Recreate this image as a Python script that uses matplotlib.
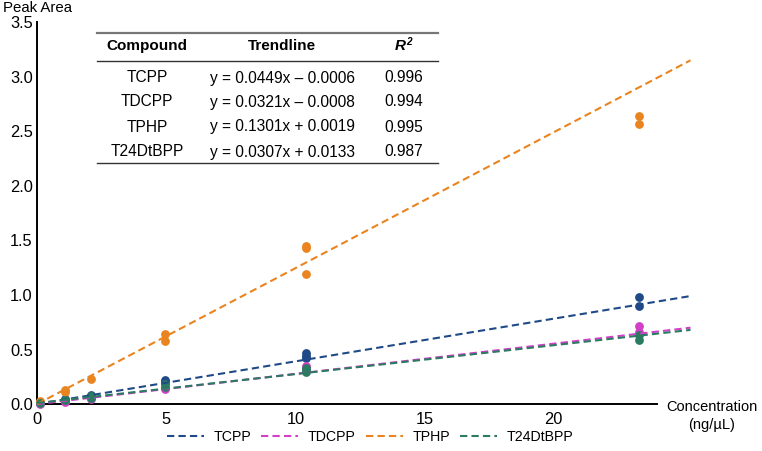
import matplotlib
matplotlib.use('Agg')
from matplotlib import pyplot as plt
from matplotlib.lines import Line2D
import numpy as np

plt.rcParams['font.family'] = ['Liberation Sans', 'DejaVu Sans']

# Data (x in axis units, y = peak area)
compounds = ['TCPP', 'TDCPP', 'TPHP', 'T24DtBPP']
colors = ['#1f4a87', '#d23fc8', '#ea8420', '#2b7a62']

tcpp_x = [0.12, 1.1, 1.1, 2.1, 2.1, 4.95, 4.95, 10.4, 10.4, 10.4, 23.3, 23.3]
tcpp_y = [0.01, 0.04, 0.05, 0.08, 0.07, 0.22, 0.20, 0.47, 0.44, 0.42, 0.98, 0.90]
tdcpp_x = [0.12, 1.1, 1.1, 2.1, 4.95, 4.95, 10.4, 10.4, 23.3, 23.3]
tdcpp_y = [0.00, 0.02, 0.03, 0.05, 0.14, 0.15, 0.35, 0.33, 0.72, 0.66]
tphp_x = [0.12, 0.12, 1.1, 1.1, 2.1, 4.95, 4.95, 10.4, 10.4, 10.4, 23.3, 23.3]
tphp_y = [0.03, 0.02, 0.13, 0.11, 0.23, 0.64, 0.58, 1.45, 1.43, 1.19, 2.64, 2.57]
t24_x = [0.12, 1.1, 2.1, 2.1, 4.95, 4.95, 10.4, 10.4, 10.4, 23.3, 23.3]
t24_y = [0.01, 0.04, 0.07, 0.06, 0.18, 0.16, 0.33, 0.31, 0.29, 0.63, 0.59]

# trendline ends (x = 0 and x = 25.3)
trend_x = [0, 25.3]
trend_y0 = [0.0, 0.0, 0.0, 0.01]
trend_y1 = [0.99, 0.70, 3.15, 0.68]

table_rows = [['TCPP', 'y = 0.0449x \u2013 0.0006', '0.996'],
              ['TDCPP', 'y = 0.0321x \u2013 0.0008', '0.994'],
              ['TPHP', 'y = 0.1301x + 0.0019', '0.995'],
              ['T24DtBPP', 'y = 0.0307x + 0.0133', '0.987']]

xs = [tcpp_x, tdcpp_x, tphp_x, t24_x]
ys = [tcpp_y, tdcpp_y, tphp_y, t24_y]

fig = plt.figure(figsize=(7.62, 4.51), dpi=100)
ax = fig.add_axes([0.0486, 0.104, 0.8135, 0.847])

for i in range(len(compounds)):
    ax.scatter(xs[i], ys[i], s=40, color=colors[i], zorder=3, clip_on=False, linewidths=0)
for i in range(len(compounds)):
    ax.plot(trend_x, [trend_y0[i], trend_y1[i]], color=colors[i], lw=1.5,
            dashes=(3.5, 2), zorder=4, clip_on=False)

ax.set_xlim(0, 24)
ax.set_ylim(0, 3.5)
ax.set_xticks([0, 5, 10, 15, 20])
ax.set_yticks(np.arange(0, 3.51, 0.5))
ax.set_yticklabels(['%.1f' % v for v in np.arange(0, 3.51, 0.5)])
ax.tick_params(length=0, labelsize=11.8)
ax.tick_params(axis='x', pad=6)
ax.tick_params(axis='y', pad=3)
ax.spines['top'].set_visible(False)
ax.spines['right'].set_visible(False)
ax.spines['left'].set_linewidth(1.4)
ax.spines['bottom'].set_linewidth(1.4)

fig.text(0.004, 0.982, 'Peak Area', fontsize=10.8, ha='left', va='center')
fig.text(0.934, 0.077, 'Concentration\n(ng/\u00b5L)', fontsize=10.5, ha='center', va='center',
         linespacing=1.35)

# table drawn in figure pixels
W, H = 762, 451
def fx(p): return p / W
def fy(p): return 1 - p / H

fig.add_artist(Line2D([fx(97), fx(438)], [fy(33), fy(33)], color='#777777', lw=1.6))
fig.add_artist(Line2D([fx(97), fx(438)], [fy(61), fy(61)], color='#333333', lw=1.0))
fig.add_artist(Line2D([fx(97), fx(438)], [fy(163), fy(163)], color='#333333', lw=1.0))
col_x = [147, 282, 404]
fig.text(fx(col_x[0]), fy(46), 'Compound', fontsize=11, weight='bold', ha='center', va='center')
fig.text(fx(col_x[1]), fy(46), 'Trendline', fontsize=11, weight='bold', ha='center', va='center')
fig.text(fx(col_x[2]) + 0.002, fy(46), 'R', fontsize=11, weight='bold',
         style='italic', ha='right', va='center')
fig.text(fx(col_x[2]) + 0.0025, fy(42), '2', fontsize=7.2, weight='bold', style='italic',
         ha='left', va='center')
row_y = [78, 102, 127, 152]
for r, row in enumerate(table_rows):
    for c in range(3):
        fig.text(fx(col_x[c]), fy(row_y[r]), row[c], fontsize=11.2, ha='center', va='center')

handles = [Line2D([], [], color=colors[i], lw=1.5, dashes=(3.5, 2)) for i in range(4)]
fig.legend(handles, compounds, loc='center', bbox_to_anchor=(0.486, 0.031), ncol=4,
           frameon=False, fontsize=10.2, handlelength=2.6, columnspacing=0.7, handletextpad=0.7)

fig.savefig('out.png', dpi=100)
